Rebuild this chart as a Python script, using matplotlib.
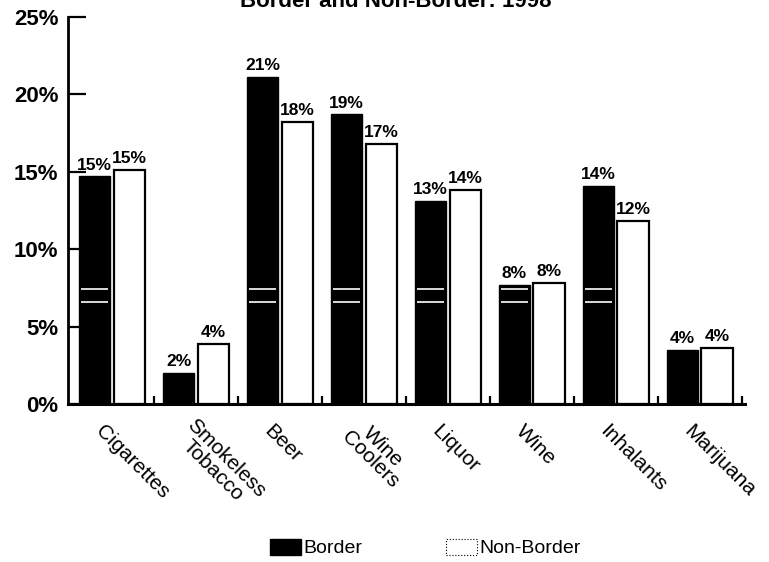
import numpy as np
import matplotlib
matplotlib.use("Agg")
import matplotlib.pyplot as plt
import matplotlib.transforms as mtransforms
from matplotlib.patches import Patch

plt.rcParams['font.family'] = ['Liberation Sans', 'DejaVu Sans']

categories = ['Cigarettes', 'Smokeless\nTobacco', 'Beer', 'Wine\nCoolers',
              'Liquor', 'Wine', 'Inhalants', 'Marijuana']
border = [14.7, 2.0, 21.1, 18.7, 13.1, 7.7, 14.1, 3.5]
non_border = [15.1, 3.9, 18.2, 16.8, 13.8, 7.8, 11.8, 3.6]
border_labels = ['15%', '2%', '21%', '19%', '13%', '8%', '14%', '4%']
non_border_labels = ['15%', '4%', '18%', '17%', '14%', '8%', '12%', '4%']
yticks = [0, 5, 10, 15, 20, 25]
title = 'Border and Non-Border: 1998'

fig = plt.figure(figsize=(7.69, 5.62), dpi=100)
ax = fig.add_axes([0.0884, 0.281, 0.9688 - 0.0884, 0.970 - 0.281])

x = np.arange(len(categories))
w = 0.38
off = 0.208
b1 = ax.bar(x - off, border, w, color='black', edgecolor='black', linewidth=1)
b2 = ax.bar(x + off, non_border, w, color='white', edgecolor='black', linewidth=1.6)

# white scan streaks across the dark bars
for xi, h in zip(x, border):
    if h > 7.4:
        ax.hlines([6.6, 7.4], xi - off - w / 2 + 0.03, xi - off + w / 2 - 0.03,
                  color='white', linewidth=1.2)

for xi, h, lab in zip(x, border, border_labels):
    ax.text(xi - off, h + 0.25, lab, ha='center', va='bottom',
            fontsize=12.5, fontweight='bold')
for xi, h, lab in zip(x, non_border, non_border_labels):
    ax.text(xi + off, h + 0.25, lab, ha='center', va='bottom',
            fontsize=12.5, fontweight='bold')

ax.set_xlim(-0.524, 7.536)
ax.set_ylim(0, 25)
ax.set_yticks(yticks)
ax.set_yticklabels([f'{t}%' for t in yticks], fontsize=16, fontweight='bold')
ax.tick_params(axis='y', direction='in', length=13, width=1.6, pad=7)

ax.set_xticks([])
ax.set_xticks(np.arange(len(categories)) + 0.5, minor=True)
ax.tick_params(axis='x', which='minor', direction='in', length=6, width=1.6)

for s in ['top', 'right']:
    ax.spines[s].set_visible(False)
ax.spines['left'].set_linewidth(2)
ax.spines['bottom'].set_linewidth(2.2)

shift = mtransforms.ScaledTranslation(-13 / 100, -24 / 100, fig.dpi_scale_trans)
for xi, lab in zip(x, categories):
    ax.text(xi, 0, lab, transform=ax.get_xaxis_transform() + shift,
            rotation=-45, rotation_mode='anchor', ha='left', va='center',
            multialignment='center', fontsize=15, linespacing=0.95)

fig.text(0.515, 1 - 7 / 562, title, ha='center', va='baseline',
         fontsize=16, fontweight='bold')

handles = [Patch(facecolor='black', edgecolor='black', label='Border'),
           Patch(facecolor='white', edgecolor='black', linewidth=0.8,
                 linestyle=':', label='Non-Border')]
fig.legend(handles=handles, loc='center', bbox_to_anchor=(0.553, 0.025),
           ncol=2, frameon=False, fontsize=14, handlelength=1.6,
           handleheight=0.9, handletextpad=0.1, columnspacing=4.3)

fig.savefig('out.png', dpi=100)
